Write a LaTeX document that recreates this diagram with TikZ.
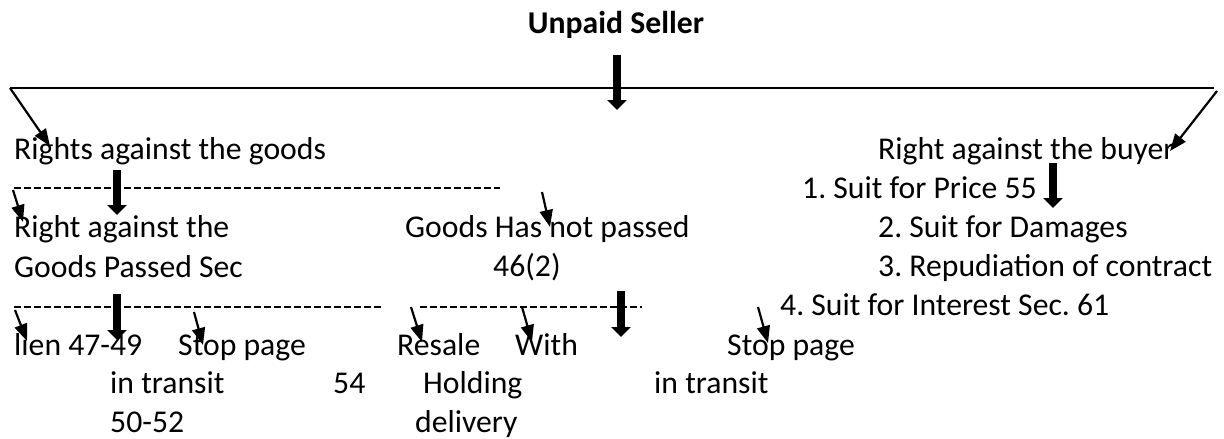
\documentclass[tikz,border=0pt]{standalone}
\usepackage{fontspec}
\setmainfont{Carlito}
\frenchspacing
\usetikzlibrary{arrows.meta}
\begin{document}
\begin{tikzpicture}[x=1pt,y=-1pt,
  txt/.style={anchor=base west,inner sep=0pt,font=\fontsize{31.7pt}{38pt}\selectfont},
  bigarrow/.style={line width=7.5pt,-{Triangle[width=19pt,length=10pt]}},
  thinarrow/.style={line width=2.2pt,-{Triangle[width=13pt,length=17pt]}},
  rule/.style={line width=2pt},
  dashrule/.style={line width=1.8pt,dash pattern=on 7pt off 3pt}]
\useasboundingbox (0,0) rectangle (1224,439);
% title
\node[txt,anchor=base,font=\fontsize{31.7pt}{38pt}\selectfont\bfseries] (title) at (616,34) {Unpaid Seller};
\coordinate (a1s) at (617,55); \coordinate (a1e) at (617,110);
\draw[bigarrow] (a1s) -- (a1e);
% main line
\coordinate (hl) at (10,88); \coordinate (hr) at (1214,88);
\draw[rule] (hl) -- (hr);
% level 1 texts
\node[txt] (rg) at (14,159) {Rights against the goods};
\node[txt] (rb) at (878,159) {Right against the buyer};
\coordinate (rgtip) at (50,146); \coordinate (rbs) at (1217,91); \coordinate (rbtip) at (1170,151);
\draw[thinarrow] (hl) -- (rgtip);
\draw[thinarrow] (rbs) -- (rbtip);
% dashed line 1
\coordinate (d1l) at (14,188); \coordinate (d1r) at (500,188);
\draw[dashrule] (d1l) -- (d1r);
\coordinate (a2s) at (117,170); \coordinate (a2e) at (117,215);
\draw[bigarrow] (a2s) -- (a2e);
\coordinate (a3s) at (13,190); \coordinate (a3e) at (23,222);
\draw[thinarrow] (a3s) -- (a3e);
\coordinate (a4s) at (542,192); \coordinate (a4e) at (550,227);
\draw[thinarrow] (a4s) -- (a4e);
% buyer list
\node[txt] (s1) at (802,198) {1. Suit for Price 55};
\coordinate (a5s) at (1053,163); \coordinate (a5e) at (1053,208);
\draw[bigarrow] (a5s) -- (a5e);
\node[txt] (s2) at (878,237) {2. Suit for Damages};
\node[txt] (s3) at (878,276) {3. Repudiation of contract};
\node[txt] (s4) at (780,315) {4. Suit for Interest Sec. 61};
% level 2 texts
\node[txt] (gp1) at (14,237) {Right against the};
\node[txt] (gp2) at (14,277) {Goods Passed Sec};
\node[txt] (gn1) at (405,237) {Goods Has not passed};
\node[txt] (gn2) at (493,276) {46(2)};
% dashed lines 2 and 3
\coordinate (d2l) at (14,307); \coordinate (d2r) at (383,307);
\draw[dashrule] (d2l) -- (d2r);
\coordinate (d3l) at (420,307); \coordinate (d3r) at (642,307);
\draw[dashrule] (d3l) -- (d3r);
\coordinate (a6s) at (117,294); \coordinate (a6e) at (117,340);
\draw[bigarrow] (a6s) -- (a6e);
\coordinate (a7s) at (621,291); \coordinate (a7e) at (621,337);
\draw[bigarrow] (a7s) -- (a7e);
% small arrows bottom
\coordinate (b1s) at (15,310); \coordinate (b1e) at (27,341);
\draw[thinarrow] (b1s) -- (b1e);
\coordinate (b2s) at (194,312); \coordinate (b2e) at (203,345);
\draw[thinarrow] (b2s) -- (b2e);
\coordinate (b3s) at (411,307); \coordinate (b3e) at (422,342);
\draw[thinarrow] (b3s) -- (b3e);
\coordinate (b4s) at (522,307); \coordinate (b4e) at (532,342);
\draw[thinarrow] (b4s) -- (b4e);
\coordinate (b5s) at (758,307); \coordinate (b5e) at (768,343);
\draw[thinarrow] (b5s) -- (b5e);
% bottom texts
\node[txt] (lien) at (14,355) {lien 47-49};
\node[txt] (sp1) at (178,355) {Stop page};
\node[txt] (it1) at (110,393) {in transit};
\node[txt] (n54) at (333,393) {54};
\node[txt] (n50) at (110,432) {50-52};
\node[txt] (res) at (397,355) {Resale};
\node[txt] (with) at (515,355) {With};
\node[txt] (hold) at (423,393) {Holding};
\node[txt] (deli) at (415,432) {delivery};
\node[txt] (sp2) at (727,355) {Stop page};
\node[txt] (it2) at (654,393) {in transit};
\end{tikzpicture}
\end{document}
